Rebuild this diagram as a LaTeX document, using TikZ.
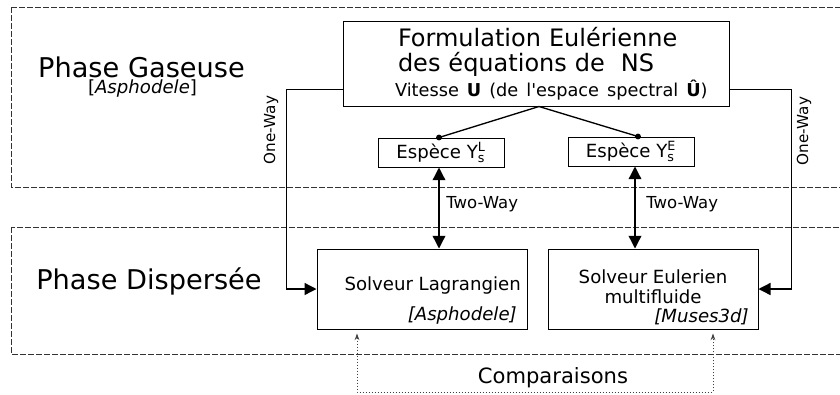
\documentclass[tikz,border=0pt]{standalone}
\usepackage{amsmath}
\usepackage{fontspec}
\setmainfont{DejaVu Sans}
\usetikzlibrary{arrows.meta,calc}

\begin{document}
\begin{tikzpicture}[x=0.75pt, y=-0.75pt, every node/.style={font=\fontsize{13.6pt}{15pt}\selectfont, inner sep=0pt},
	zone/.style={draw=black!80, line width=0.6pt, dash pattern=on 4.5pt off 1.5pt},
	bloc/.style={draw, line width=0.75pt},
	big/.style={font=\fontsize{20.4pt}{24pt}\selectfont},
	lien/.style={line width=1pt},
	sens/.style={lien, -{Triangle[length=9pt, width=9pt]}},
	deux/.style={lien, {Triangle[length=9.5pt, width=9.5pt]}-{Triangle[length=9.5pt, width=9.5pt]}},
	cmp/.style={black!75, line width=0.75pt, dash pattern=on 0.75pt off 1.5pt, shorten <=3pt, shorten >=3pt, {Stealth[length=5pt, width=3.5pt]}-{Stealth[length=5pt, width=3.5pt]}}]
	\useasboundingbox (0,0) rectangle (840,394);
	\draw[zone] (11,7) rectangle (850,187);
	\draw[zone] (11,227) rectangle (850,354);
	\node[big, anchor=base] (gas) at (141.5,77) {Phase Gaseuse};
	\node[anchor=base] (gasref) at (142.5,93) {[\textit{Asphodele}]};
	\node[big, anchor=base] (disp) at (149,289) {Phase Dispersée};
	\node[bloc, text width=211.5pt, inner xsep=39pt, minimum height=63.75pt, align=left, font=\fontsize{18pt}{18.75pt}\selectfont] (form) at (536,63.5) {\hspace*{2.25pt}\rlap{Formulation Eulérienne}\\\hspace*{2.25pt}\rlap{des équations de\ \ NS}\\\rlap{\fontsize{13.3pt}{15pt}\selectfont Vitesse \textbf{U} (de l\textquotesingle espace spectral \textbf{Û})}};
	\node[bloc, minimum width=94.5pt, minimum height=21.75pt] (espL) at (441,152.5) {Espèce Y$^{\text{L}}_{\text{s}}$};
	\node[bloc, minimum width=94.5pt, minimum height=21.75pt] (espE) at (631,151.5) {Espèce Y$^{\text{E}}_{\text{s}}$};
	\node[bloc, minimum width=157.5pt, minimum height=60pt] (lag) at (422,289) {};
	\node[anchor=base east] (lagnom) at (521,290) {Solveur Lagrangien};
	\node[anchor=base east] (lagcode) at (517,320) {\textit{[Asphodele]}};
	\node[bloc, minimum width=157.5pt, minimum height=60pt] (eul) at (653,289) {};
	\node[anchor=base] (eulnom) at (653,283) {Solveur Eulerien};
	\node[anchor=base] (eulnom2) at (653,303) {multifluide};
	\node[anchor=base east] (eulcode) at (749,322) {\textit{[Muses3d]}};
	\coordinate (pL) at ($(espL.north)+(-2,0)$);
	\coordinate (pE) at ($(espE.north)+(7,0)$);
	\draw[lien] (pL) -- ($(form.south)+(3,0)$) -- (pE);
	\foreach \p in {pL,pE} {\fill (\p) circle (2.2pt);}
	\draw[deux] ($(espL.south)+(-2,0)$) -- ($(espL.south |- lag.north)+(-2,0)$);
	\draw[deux] ($(espE.south)+(4,0)$) -- ($(espE.south |- eul.north)+(4,0)$);
	\node[anchor=west, font=\fontsize{12.4pt}{14pt}\selectfont] (twL) at (446,204) {Two-Way};
	\node[anchor=west, font=\fontsize{12.4pt}{14pt}\selectfont] (twE) at (646,204) {Two-Way};
	\draw[sens] ($(form.south west)+(0,-17)$) -- ++(-56,0) |- (lag.west);
	\draw[sens] ($(form.south east)+(0,-17)$) -- ++(62,0) |- (eul.east);
	\node[rotate=90, font=\fontsize{11.4pt}{13pt}\selectfont] (owL) at (271,130) {One-Way};
	\node[rotate=90, font=\fontsize{11.4pt}{13pt}\selectfont] (owR) at (804,131) {One-Way};
	\coordinate (cL) at (357,392);
	\coordinate (cE) at (713,392);
	\draw[cmp] (cL |- lag.south) -- (cL) -- (cE) -- (cE |- eul.south);
	\node[font=\fontsize{15.8pt}{18pt}\selectfont] (cmptxt) at (553,378) {Comparaisons};
\end{tikzpicture}
\end{document}
